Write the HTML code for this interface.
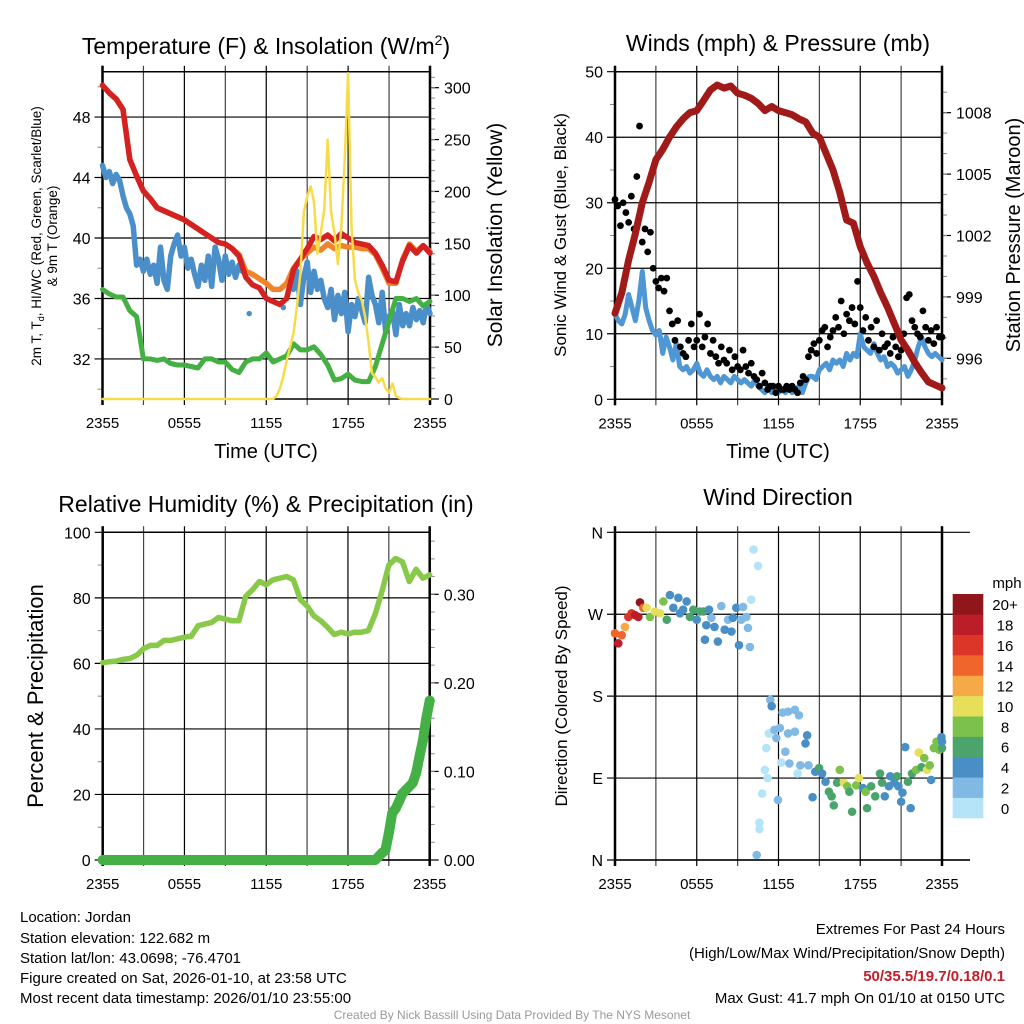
<!DOCTYPE html>
<html><head><meta charset="utf-8">
<style>
html,body{margin:0;padding:0;background:#fff;}
svg{display:block;font-family:"Liberation Sans",Arial,sans-serif;}
</style></head>
<body>
<svg id="chart" width="1024" height="1024" viewBox="0 0 1024 1024" xmlns="http://www.w3.org/2000/svg">
<rect x="0" y="0" width="1024" height="1024" fill="#fff"/>
<text x="266" y="54" font-size="23" text-anchor="middle">Temperature (F) &amp; Insolation (W/m<tspan dy="-9" font-size="14">2</tspan><tspan dy="9">)</tspan></text>
<text x="778" y="51" font-size="23" text-anchor="middle">Winds (mph) &amp; Pressure (mb)</text>
<text x="266" y="512" font-size="23" text-anchor="middle">Relative Humidity (%) &amp; Precipitation (in)</text>
<text x="778" y="505" font-size="23" text-anchor="middle">Wind Direction</text>

<text transform="translate(41,236) rotate(-90)" font-size="13.5" text-anchor="middle">2m T, T<tspan dy="3" font-size="9">d</tspan><tspan dy="-3">, HI/WC (Red, Green, Scarlet/Blue)</tspan></text>
<text transform="translate(57,236) rotate(-90)" font-size="13.5" text-anchor="middle">&amp; 9m T (Orange)</text>
<text transform="translate(502,235) rotate(-90)" font-size="21" text-anchor="middle">Solar Insolation (Yellow)</text>
<text transform="translate(566,235) rotate(-90)" font-size="17" text-anchor="middle">Sonic Wind &amp; Gust (Blue, Black)</text>
<text transform="translate(1020,235) rotate(-90)" font-size="20" text-anchor="middle">Station Pressure (Maroon)</text>
<text transform="translate(43,696) rotate(-90)" font-size="22" text-anchor="middle">Percent &amp; Precipitation</text>
<text transform="translate(567,696) rotate(-90)" font-size="17" text-anchor="middle">Direction (Colored By Speed)</text>
<text x="266" y="458" font-size="20" text-anchor="middle">Time (UTC)</text>
<text x="778" y="458" font-size="20" text-anchor="middle">Time (UTC)</text>

<g font-size="15">
<text x="20" y="922">Location: Jordan</text>
<text x="20" y="943">Station elevation: 122.682 m</text>
<text x="20" y="963">Station lat/lon: 43.0698; -76.4701</text>
<text x="20" y="983">Figure created on Sat, 2026-01-10, at 23:58 UTC</text>
<text x="20" y="1003">Most recent data timestamp: 2026/01/10 23:55:00</text>
</g>
<g font-size="15" text-anchor="end">
<text x="1005" y="934">Extremes For Past 24 Hours</text>
<text x="1005" y="958">(High/Low/Max Wind/Precipitation/Snow Depth)</text>
<text x="1005" y="981" fill="#c0202a" font-weight="bold">50/35.5/19.7/0.18/0.1</text>
<text x="1005" y="1003">Max Gust: 41.7 mph On 01/10 at 0150 UTC</text>
</g>
<text x="512" y="1019" font-size="12" fill="#999" text-anchor="middle">Created By Nick Bassill Using Data Provided By The NYS Mesonet</text>
<g id="layer"></g>
</svg>
<script>
// ---- data ----
const xTickLabels = ["2355","0555","1155","1755","2355"];
const tempTicks = [32,36,40,44,48];
const solarTicks = [0,50,100,150,200,250,300];
const windTicks = [0,10,20,30,40,50];
const presTicks = [996,999,1002,1005,1008];
const rhTicks = [0,20,40,60,80,100];
const precipTicks = [0,0.1,0.2,0.3];
const precipTickLabels = ["0.00","0.10","0.20","0.30"];
const dirTicks = [0,90,180,270,360];
const dirTickLabels = ["N","E","S","W","N"];
const speedLevels = ["0","2","4","6","8","10","12","14","16","18","20+"];
const speedColors = ["#b5e3f8","#7fb9e4","#4a8ec6","#4aa46c","#7cc14c","#e6df5a","#f6a947","#ef652b","#dc3629","#bc1d28","#8f171c"];

// half-hour series (t = 0..24)
const tempRed = [50.1,49.6,49.2,48.5,45.2,44.1,43.1,42.6,42.0,41.8,41.6,41.4,41.2,40.9,40.6,40.3,40.0,39.7,39.6,39.3,38.8,37.4,36.9,36.7,36.0,35.8,35.6,36.0,37.9,38.6,39.3,40.1,39.9,40.2,39.8,40.3,40.0,39.7,39.6,39.5,39.0,38.2,37.2,37.1,38.5,39.5,39.0,39.5,39.0];
const temp9m = [50.1,49.6,49.2,48.5,45.2,44.1,43.1,42.6,42.0,41.8,41.6,41.4,41.2,40.9,40.6,40.3,40.0,39.7,39.6,39.3,38.9,37.8,37.6,37.3,37.0,36.6,36.6,37.0,38.0,38.6,39.0,39.4,39.2,39.6,39.3,39.5,39.4,39.4,39.3,39.3,38.9,38.0,37.0,37.0,38.6,39.6,39.1,39.5,39.1];
const dewGreen = [36.6,36.3,36.1,36.1,35.2,34.8,32.0,32.0,31.9,32.0,31.7,31.6,31.6,31.5,31.4,32.0,32.0,31.8,31.8,31.3,31.1,31.8,32.0,32.0,32.4,31.8,32.0,32.2,33.0,32.6,32.6,32.8,32.3,31.6,30.6,30.7,31.0,30.6,30.5,30.5,31.5,33.0,34.5,36.0,36.0,35.8,36.0,35.5,35.8];
// quarter-hour series (t = 0..24)
const windChill = [44.8,44.0,44.4,43.6,44.2,43.8,42.8,42.0,41.6,
40.8,38.2,38.6,37.8,38.6,37.6,38.2,37.0,
39.4,37.2,36.6,38.8,39.6,40.2,38.8,39.4,
38.0,38.6,37.6,36.8,38.2,37.2,38.8,36.8,
39.4,38.6,37.2,38.8,37.6,38.4,37.4,38.2,
37.8,null,35.0,null,null,null,null,null,
null,null,null,null,35.4,null,null,36.6,
37.8,35.6,37.4,38.4,36.4,37.8,36.6,37.2,
36.0,35.4,36.6,34.6,36.2,35.0,36.4,33.8,
35.6,34.8,36.0,35.2,34.4,37.4,36.2,35.6,
34.4,36.4,33.8,34.8,35.2,33.6,35.6,34.2,
35.0,34.2,35.4,34.6,35.2,34.4,35.6,35.0];
const solar = [0,0,0,0,0,0,0,0,0,0,0,0,0,0,0,0,0,0,0,0,0,0,0,0,0,0,0,0,0,0,0,0,0,0,0,0,0,0,0,0,0,0,0,0,0,0,0,0,0,0,
0,3,10,22,37,50,63,90,121,180,195,205,190,140,160,182,250,180,160,130,165,230,314,166,115,102,95,79,54,25,21,16,20,10,6,15,3,1,
0,0,0,0,0,0,0,0,0];
const windSpeed = [13,12,11.5,13,16,14,12,15,19.5,
14,12,10.5,9.8,10.5,7,9.5,8,
6,8.5,5,4.5,5,4,4.5,5.5,
4,3.5,4.5,3.5,3,3.5,2.5,3.5,
3,2.5,3.5,3,2.5,3,2.5,2,
3,2,1.5,1,2,1,1.5,1,
1.5,1,2,1,1.5,2,1,2.5,
3.5,3.5,3,4.5,5,5.5,4.5,6,
5.5,6,5,7,6,7,6.5,10,
8,7.5,7,8.5,7,6,6.5,5,
5.5,5,4,4.5,5,3.5,4.5,6,
8,9.5,8,7,6.5,7,6.5,6];
// gust every 0.2 h
const windGust = [30.5,29.5,26.5,30,28.5,27,31,26,34,41.7,
24,26,22.5,25.5,20,18,17,18.5,16.5,18.5,
13.5,11.5,9,12,8,7,6.5,9,11.5,8,
9,13,8,9.5,11.5,7,9,6.5,5.5,8,
6,5.5,7.5,4.5,6.5,5,4.5,7.5,5,4,
5.5,3.5,3,2,4,2.5,1.5,2,2,1,
2,1.5,1.5,2,1.5,2,1.5,1,2.5,3.5,
3,6.5,7.5,8.5,7,9,10.5,11,8,9.5,
10.5,12.5,11,15,10,13,12,14,11.5,18,
14,10.5,12.5,9,11,8,12,7.5,10,8,
8.5,7,9.5,8,6.5,7.5,10,15.5,16,12,
11,10,9.5,13.5,11,9,10.5,8.5,11,9.5,9.5];
const pressure = [998.2,999.2,1000.8,1002.1,1003.6,1004.6,1005.7,1006.2,1006.8,1007.3,1007.7,1008.0,1008.1,1008.6,1009.1,1009.35,1009.2,1009.3,1008.95,1008.85,1008.7,1008.45,1008.1,1008.3,1008.1,1008.0,1007.9,1007.7,1007.55,1007.0,1006.8,1006.0,1005.2,1004.1,1002.75,1002.6,1001.45,1000.65,1000.0,999.2,998.5,997.7,996.9,996.4,995.8,995.3,994.85,994.7,994.55];
const humidity = [60.2,60.5,60.7,61.2,61.5,62.5,64.5,65.5,65.5,67,67,67.5,68,68.3,71.5,72,72.5,74,73.5,73,73,80.5,82.5,85,84,85.5,86,86.5,85.5,79.5,77.5,74.5,73,71,68.8,69.5,69,69.5,69.5,70,75,82,90,92,91,85,88.7,86,87];
const precip = [0,0,0,0,0,0,0,0,0,0,0,0,0,0,0,0,0,0,0,0,0,0,0,0,0,0,0,0,0,0,0,0,0,0,0,0,0,0,0,0,0,0,0,0,0,0,0,0,0,0,0,0,0,0,0,0,0,0,0,0,0,0,0,0,0,0,0,0,0,0,0,0,0,0,0,0,0,0,0,0,0,
0.004,0.008,0.011,0.03,0.053,0.058,0.066,0.075,0.079,0.083,0.087,0.098,0.117,0.135,0.16,0.18];
const dirTimes = [0,0.24,0.49,0.73,0.98,1.22,1.47,1.71,1.83,2.08,2.32,2.57,2.93,3.3,3.55,3.8,4.03,4.28,4.65,4.77,5.0,5.26,5.5,5.75,6.0,6.24,6.5,6.6,6.7,6.9,7.07,7.3,7.55,7.8,8.05,8.3,8.55,8.66,8.9,9.1,9.27,9.4,9.64,9.76,9.9,10.0,10.17,10.5,10.4,10.6,10.6,10.8,11.0,11.1,11.2,11.3,11.4,11.5,11.7,11.84,11.96,12.1,12.2,12.3,12.5,12.7,12.7,12.8,13.2,13.2,13.4,13.5,13.6,13.98,14.1,14.2,14.5,14.7,14.98,15.2,15.45,15.7,15.9,16.06,16.3,16.5,16.8,17.05,17.2,17.4,17.7,17.9,18.2,18.4,18.5,18.8,19.1,19.45,19.6,19.8,20.1,20.2,20.5,20.7,20.8,21.0,21.1,21.3,21.5,21.7,21.8,22.1,22.3,22.5,22.7,22.9,23.1,23.2,23.4,23.6,23.8,23.96,24,24];
const dirValues = [249,238,247,256,267,271,269,267,283,277,277,267,273,271,284,264,291,277,288,271,275,284,267,275,264,273,273,242,258,275,266,256,240,279,253,264,251,266,277,236,264,278,267,255,234,286,341,323,5.5,41,34,73,99,123,90,139,176,169,143,134,66,145,107,162,119,163,139,106,165,141,95,159,104,128,137,104,69,97,101,95,86,75,70,60,85,99,85,81,75,53,82,90,79,75,57,81,70,95,85,70,81,92,85,92,81,64,74,124,86,57,95,99,118,102,112,99,104,88,123,130,121,135,123,130];
const dirSpeeds = [14,17,13,12,16,15,17,18,20,14,10,8,10,10,8,6,4,4,4,4,4,4,5,6,4,6,5,3,4,3,2,4,3,2,3,2,4,3,3,4,2,2,2,2,2,0.5,0,0,1,0,0,0,0,0,0,0,1,3,2,2,2,1,0,1,1,1,1,1,1,2,0,2,2,3,3,2,3,4,5,4,4,6,5,6,6,8,9,8,5,6,7,10,4,8,6,5,6,6,5,4,4,4,3,6,4,3,4,4,6,3,5,7,10,6,8,9,7,4,7,8,7,4,6,4];

// ---- rendering ----
const NS = "http://www.w3.org/2000/svg";
const layer = document.getElementById("layer");
function mk(tag, attrs, parent){
  const e = document.createElementNS(NS, tag);
  for (const k in attrs) e.setAttribute(k, attrs[k]);
  (parent||layer).appendChild(e);
  return e;
}
function scale(d0,d1,r0,r1){ return v => r0 + (v-d0)/(d1-d0)*(r1-r0); }

const panels = {
  temp:{x0:102.5,x1:430,y0:71.7,y1:399,ld:[29.35,51.0],rd:[0,315.4]},
  wind:{x0:615,x1:942,y0:71.7,y1:399.3,ld:[0,50],rd:[994,1010]},
  rh:{x0:102.7,x1:429.7,y0:532.3,y1:860,ld:[0,100],rd:[0,0.37]},
  dir:{x0:615,x1:942,y0:532.3,y1:860,ld:[0,360],rd:null}
};
for (const k in panels){
  const p = panels[k];
  p.x = scale(0,24,p.x0,p.x1);
  p.yl = scale(p.ld[0],p.ld[1],p.y1,p.y0);
  if (p.rd) p.yr = scale(p.rd[0],p.rd[1],p.y1,p.y0);
}

function drawFrame(name,p,leftTicks,leftLabels,leftMinor,rightTicks,rightLabels,rightMinor,ext){
  const g = mk("g",{});
  
  
  for (let h=0; h<=24; h+=3){
    const xx = p.x(h);
    const l = mk("line",{x1:xx,x2:xx,y1:p.y0-6,y2:p.y1+6,stroke:(h%6===0?"#000":"#444"),"stroke-width":1.2},g);
    
    
  }
  leftTicks.forEach((v,i)=>{
    const yy = p.yl(v);
    const l = mk("line",{x1:p.x0-8,x2:(ext||p.x1),y1:yy,y2:yy,stroke:"#000","stroke-width":1.2},g);
    
    
    const t = mk("text",{x:p.x0-12,y:yy+6,"font-size":16,"text-anchor":"end"},g);
    t.textContent = leftLabels[i];
    
    
  });
  leftMinor.forEach(v=>{
    const yy = p.yl(v);
    const l = mk("line",{x1:p.x0-5,x2:p.x0,y1:yy,y2:yy,stroke:"#888","stroke-width":1},g);
    
    
  });
  if (rightTicks){
    rightTicks.forEach((v,i)=>{
      const yy = p.yr(v);
      const l = mk("line",{x1:p.x1,x2:p.x1+9,y1:yy,y2:yy,stroke:"#000","stroke-width":1.2},g);
      
      
      const t = mk("text",{x:p.x1+14,y:yy+6,"font-size":16},g);
      t.textContent = rightLabels[i];
      
      
    });
    rightMinor.forEach(v=>{
      const yy = p.yr(v);
      const l = mk("line",{x1:p.x1,x2:p.x1+5,y1:yy,y2:yy,stroke:"#888","stroke-width":1},g);
      
      
    });
  }
  const top = mk("line",{x1:p.x0,x2:p.x1,y1:p.y0,y2:p.y0,stroke:"#000","stroke-width":1.5},g);
  
  
  const bot = mk("line",{x1:p.x0,x2:(ext||p.x1),y1:p.y1,y2:p.y1,stroke:"#000","stroke-width":1.5},g);
  
  
  const la = mk("line",{x1:p.x0,x2:p.x0,y1:p.y0-6,y2:p.y1+6,stroke:"#000","stroke-width":2.5},g);
  
  
  const ra = mk("line",{x1:p.x1,x2:p.x1,y1:p.y0-6,y2:p.y1+6,stroke:"#000","stroke-width":2.5},g);
  
  
  xTickLabels.forEach((s,i)=>{
    const t = mk("text",{x:p.x(i*6),y:p.y1+29,"font-size":15,"text-anchor":"middle"},g);
    t.textContent = s;
    
    
  });
}
function range(a,b,s){const r=[];for(let v=a;v<=b+1e-9;v+=s)r.push(+v.toFixed(4));return r;}

function polyline(name,p,vals,step,yfn,color,w){
  let segs=[],cur=[];
  vals.forEach((v,i)=>{
    if (v===null){ if(cur.length) segs.push(cur); cur=[]; return; }
    cur.push(p.x(i*step).toFixed(1)+","+yfn(v).toFixed(1));
  });
  if (cur.length) segs.push(cur);
  segs.forEach(s=>{
    if (s.length===1) s.push(s[0]);
    const e = mk("polyline",{points:s.join(" "),fill:"none",stroke:color,"stroke-width":w,"stroke-linejoin":"round","stroke-linecap":"round"});
    
    
  });
}

// Panel 1
let P = panels.temp;
drawFrame("temperature",P,tempTicks,tempTicks.map(String),[30,34,38,42,46,50],solarTicks,solarTicks.map(String),range(10,310,10));
polyline("wind-chill-line",P,windChill,0.25,P.yl,"#4a8fc9",5.5);
polyline("dewpoint-line",P,dewGreen,0.5,P.yl,"#44b044",5);
polyline("temperature-9m-line",P,temp9m,0.5,P.yl,"#f0842a",5.5);
polyline("temperature-2m-line",P,tempRed,0.5,P.yl,"#d42222",5.5);
polyline("solar-insolation-line",P,solar,0.25,P.yr,"#f7dc4a",2.5);

// Panel 2
P = panels.wind;
drawFrame("wind",P,windTicks,windTicks.map(String),[5,15,25,35,45],presTicks,presTicks.map(String),range(995,1009,1));
polyline("wind-speed-line",P,windSpeed,0.25,P.yl,"#4f97d4",5);
windGust.forEach((v,i)=>{
  const c = mk("circle",{cx:P.x(i*0.2),cy:P.yl(v),r:3.4,fill:"#000"});
  
  
});
polyline("pressure-line",P,pressure,0.5,P.yr,"#a11a1a",7);

// Panel 3
P = panels.rh;
drawFrame("humidity",P,rhTicks,rhTicks.map(String),[10,30,50,70,90],precipTicks,precipTickLabels,range(0.02,0.36,0.02));
polyline("relative-humidity-line",P,humidity,0.5,P.yl,"#88c94a",5.5);
polyline("precipitation-line",P,precip,0.25,P.yr,"#45b045",10);
precip.forEach((v,i)=>{
  const c = mk("circle",{cx:P.x(i*0.25),cy:P.yr(v),r:5,fill:"#45b045"});
  
  
});

// Panel 4
P = panels.dir;
drawFrame("direction",P,dirTicks,dirTickLabels,[],null,null,null,P.x1+28);
dirTimes.forEach((t,i)=>{
  const idx = Math.min(10, Math.round(dirSpeeds[i]/2));
  const c = mk("circle",{cx:P.x(t),cy:P.yl(dirValues[i]),r:4.3,fill:speedColors[idx]});
  
  
});
const cbTop=594, cbBot=818, cbH=(cbBot-cbTop)/speedLevels.length;
const cbT = mk("text",{x:1007,y:588,"font-size":15,"text-anchor":"middle"});
cbT.textContent = "mph";


speedLevels.forEach((lab,i)=>{
  const j = speedLevels.length-1-i;
  const r = mk("rect",{x:952.7,y:cbTop+j*cbH,width:30.6,height:cbH+0.3,fill:speedColors[i]});
  
  
  const t = mk("text",{x:1005,y:cbTop+j*cbH+cbH/2+6,"font-size":15,"text-anchor":"middle"});
  t.textContent = lab;
  
  
});
</script>
</body></html>
